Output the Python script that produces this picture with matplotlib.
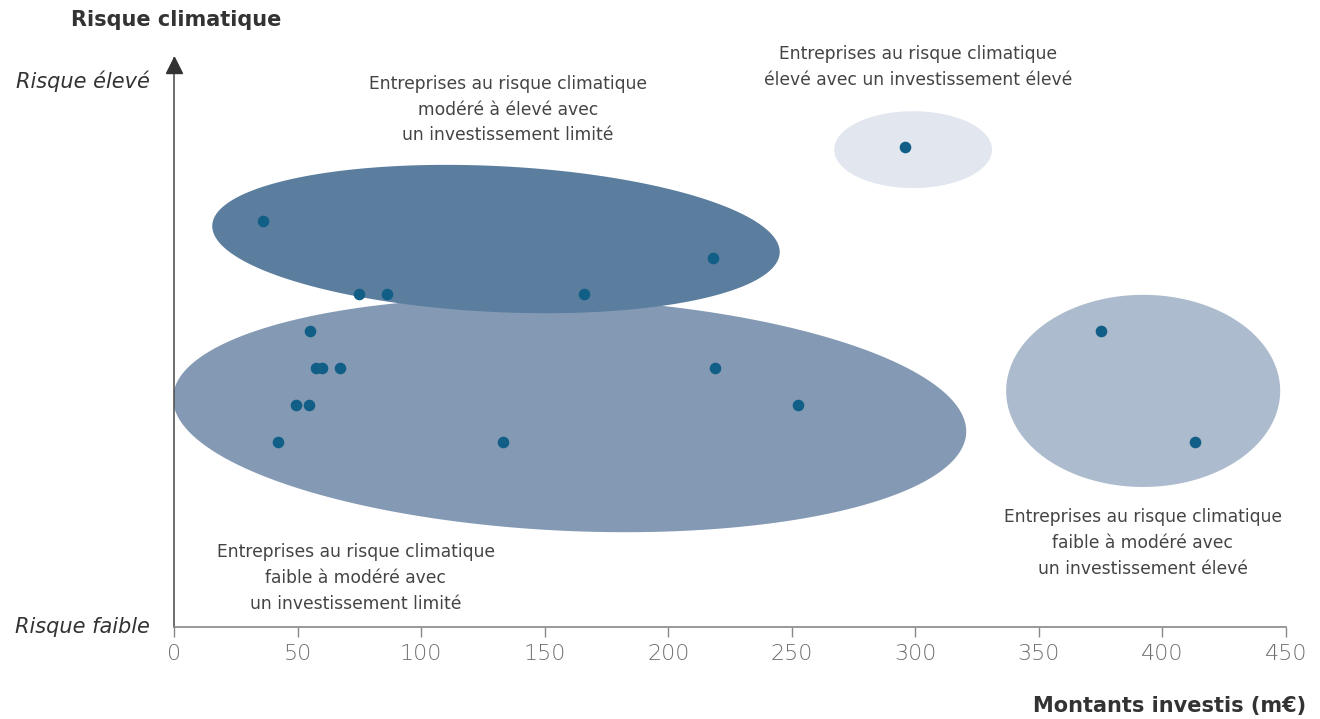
import numpy as np
import matplotlib
matplotlib.use("Agg")
import matplotlib.pyplot as plt
from matplotlib.patches import Polygon

plt.rcParams['font.family'] = ['DejaVu Sans']

# points: montant investi (m€) / niveau de risque
montants = [36, 218, 75, 86, 166, 55, 375, 57.5, 60, 67, 219, 49.5, 54.5, 252.5, 42, 133, 413, 296]
risques  = [11, 10, 9, 9, 9, 8, 8, 7, 7, 7, 7, 6, 6, 6, 5, 5, 5, 13]

# groupes : centre x, centre y, largeur (m€), hauteur (risque), inclinaison (deg), couleur
groupe_cx = [160.1, 130.3, 299.1, 392.2]
groupe_cy = [5.74, 10.5, 12.92, 6.39]
groupe_w = [321.3, 229.9, 63.9, 110.9]
groupe_h = [6.28, 3.95, 2.08, 5.2]
groupe_angle = [-2.6, -2.8, 0, 0]
groupe_col = ['#849ab4', '#5b7e9f', '#e1e6ef', '#acbbcd']

labels = [
    "Entreprises au risque climatique\nmodéré à élevé avec\nun investissement limité",
    "Entreprises au risque climatique\nélevé avec un investissement élevé",
    "Entreprises au risque climatique\nfaible à modéré avec\nun investissement limité",
    "Entreprises au risque climatique\nfaible à modéré avec\nun investissement élevé",
]
label_x = [135.2, 301, 73.6, 392]
label_y = [14.0, 15.15, 1.33, 2.27]

xticks = [0, 50, 100, 150, 200, 250, 300, 350, 400, 450]

fig = plt.figure(figsize=(13.2, 7.19), dpi=100)
ax = fig.add_axes([174/1320, 92/719, 1112/1320, 569/719])
ax.set_xlim(0, 450)
ax.set_ylim(0, 15.4)

# ellipses drawn in pixel space so the tilt looks right
trans = ax.transData
for i in [0, 1, 2, 3]:
    c = trans.transform((groupe_cx[i], groupe_cy[i]))
    p0 = trans.transform((0, 0))
    pw = trans.transform((groupe_w[i], groupe_h[i])) - p0
    a, b = pw[0] / 2, pw[1] / 2
    t = np.linspace(0, 2 * np.pi, 300)
    th = np.radians(groupe_angle[i])
    px = c[0] + a * np.cos(t) * np.cos(th) - b * np.sin(t) * np.sin(th)
    py = c[1] + a * np.cos(t) * np.sin(th) + b * np.sin(t) * np.cos(th)
    pts = trans.inverted().transform(np.column_stack([px, py]))
    ax.add_patch(Polygon(pts, closed=True, facecolor=groupe_col[i], edgecolor='none', zorder=1 if i == 0 else 2))

ax.scatter(montants, risques, s=70, color='#115f87', zorder=5, linewidths=0)

for i in range(4):
    ax.text(label_x[i], label_y[i], labels[i], ha='center', va='center', fontsize=12.3,
            color='#444444', linespacing=1.55, zorder=6)

for s in ['top', 'right']:
    ax.spines[s].set_visible(False)
ax.spines['left'].set_color('#555555')
ax.spines['bottom'].set_color('#888888')
ax.spines['left'].set_linewidth(1.2)
ax.spines['bottom'].set_linewidth(1.2)
ax.set_yticks([])
ax.set_xticks(xticks)
ax.tick_params(axis='x', length=7, width=1, color='#888888', labelcolor='#6e6e6e', labelsize=16, pad=5)
for lab in ax.get_xticklabels():
    lab.set_fontweight('light')

# arrow on y axis
ax.plot([0], [15.2], marker='^', markersize=12, color='#333333', clip_on=False, zorder=7)

fig.text(71/1320, 1 - 20/719, "Risque climatique", fontsize=15, fontweight='bold', color='#333333', va='center', ha='left')
fig.text(150/1320, 1 - 81/719, "Risque élevé", fontsize=15, style='italic', color='#333333', va='center', ha='right')
fig.text(150/1320, 1 - 627/719, "Risque faible", fontsize=15, style='italic', color='#333333', va='center', ha='right')
fig.text(1306/1320, 1 - 706/719, "Montants investis (m€)", fontsize=15, fontweight='bold', color='#333333', va='center', ha='right')

fig.savefig("out.png", dpi=100)
